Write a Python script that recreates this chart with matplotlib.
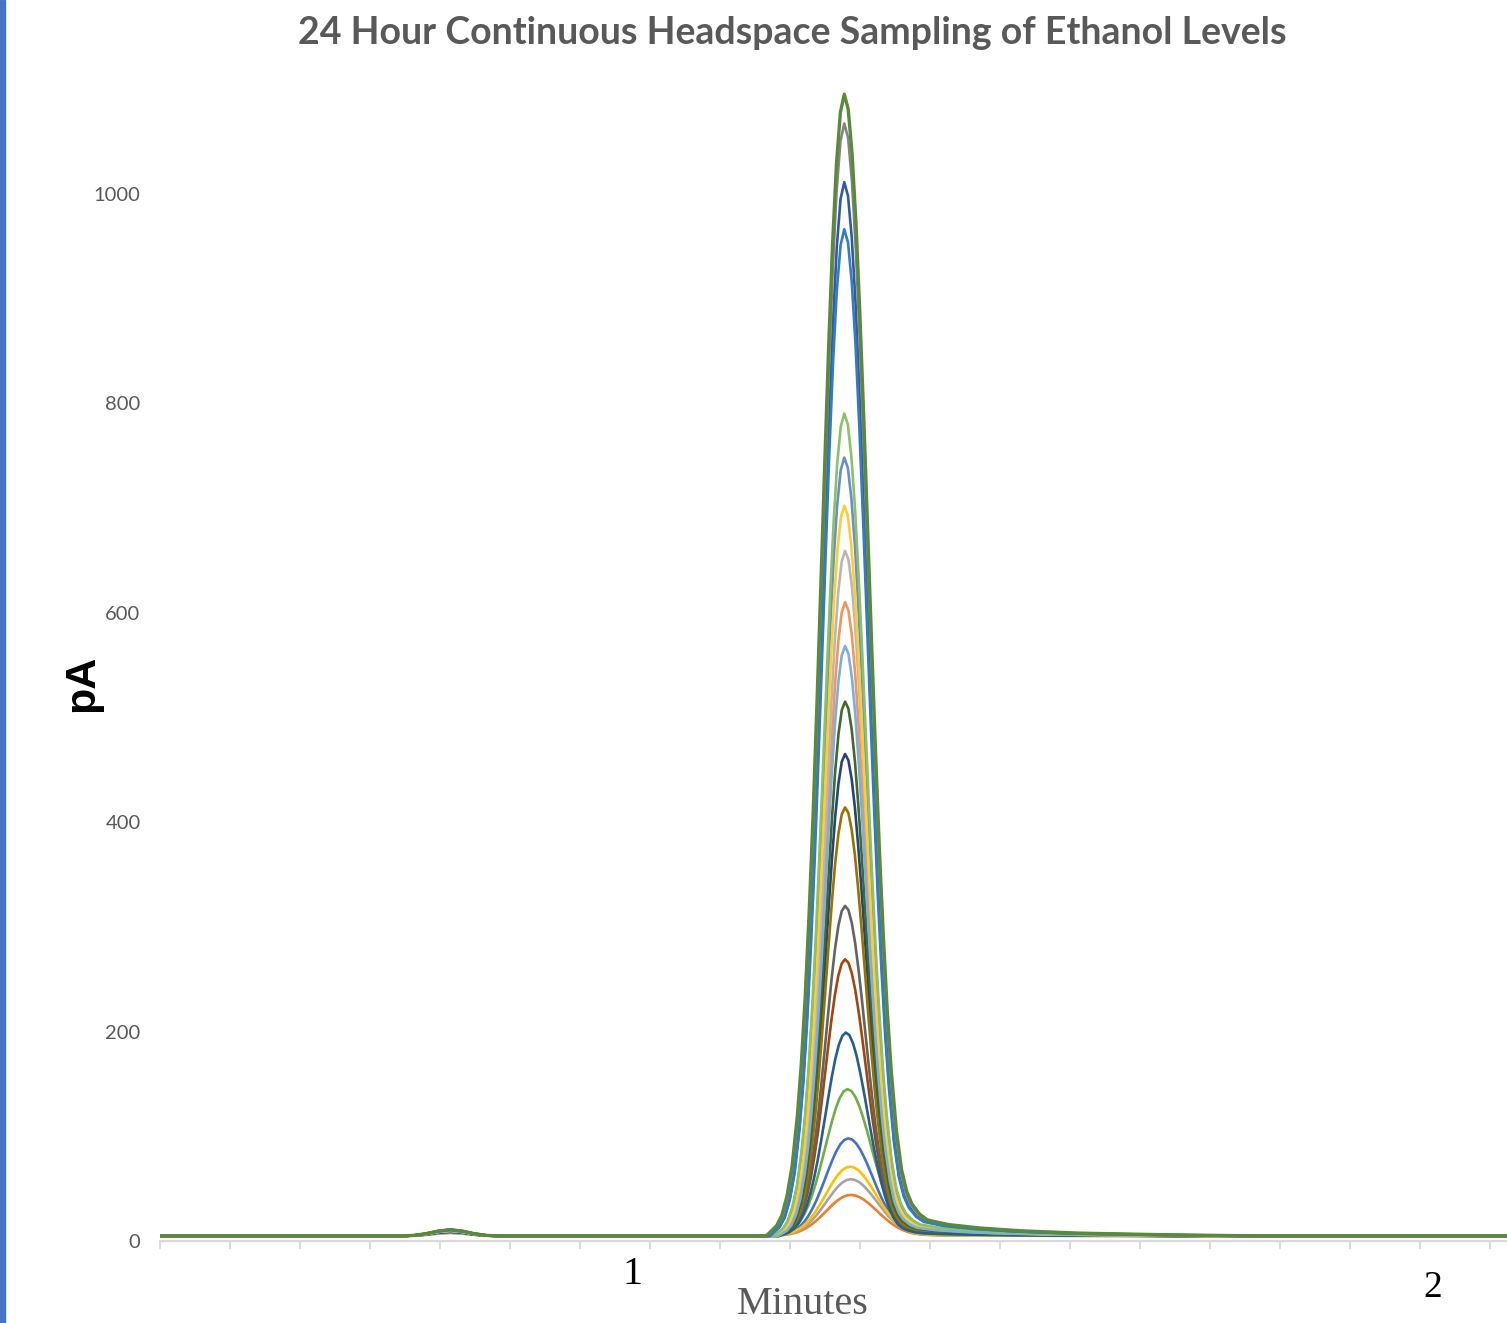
import numpy as np
import matplotlib.pyplot as plt
import matplotlib.transforms as mtransforms
from matplotlib.patches import Rectangle

# apex values (pA) of the ethanol peak, one per run, in series order
peak_heights = [98, 44, 59, 71, 145, 465, 269, 320, 414, 199, 515,
                748, 610, 659, 702, 568, 790, 1011, 1067, 966, 1095]
# retention time of each apex (min)
retention = [1.270, 1.273, 1.273, 1.272, 1.269, 1.266, 1.266, 1.266, 1.266, 1.267, 1.266,
             1.265, 1.266, 1.266, 1.265, 1.266, 1.265, 1.265, 1.265, 1.265, 1.265]
# peak width at half height (min)
peak_fwhm = [0.066, 0.072, 0.071, 0.070, 0.065, 0.055, 0.057, 0.056, 0.055, 0.059, 0.055,
             0.059, 0.056, 0.057, 0.057, 0.056, 0.059, 0.062, 0.064, 0.062, 0.065]
# small early peak
bump_heights = [4, 3, 3, 4, 5, 5, 4, 4, 5, 4, 5, 5, 5, 5, 5, 5, 6, 6, 6, 6, 6]
bump_time = 0.773
bump_fwhm = 0.05
baseline = 4.8

# peak shape: offset in half-height widths -> fraction of apex
shape_offsets = [-1.5, -1.3, -1.2, -1.1, -1.0, -0.9, -0.825, -0.75, -0.675, -0.6,
                 -0.525, -0.45, -0.375, -0.3, -0.225, -0.15, -0.075, 0.0,
                 0.075, 0.15, 0.225, 0.3, 0.375, 0.45, 0.525, 0.6, 0.675, 0.75,
                 0.825, 0.9, 1.0, 1.1, 1.2, 1.3, 1.45, 1.6, 2.0, 2.6, 3.4, 4.5, 6.0, 8.0]
shape_values = [0.0, 0.009, 0.018, 0.035, 0.062, 0.106, 0.151, 0.21, 0.283, 0.368,
                0.466, 0.57, 0.677, 0.779, 0.869, 0.939, 0.984, 1.0,
                0.987, 0.948, 0.887, 0.807, 0.716, 0.618, 0.519, 0.425, 0.338, 0.263,
                0.198, 0.146, 0.093, 0.058, 0.039, 0.028, 0.019, 0.014, 0.010, 0.007,
                0.0045, 0.0025, 0.0012, 0.0]
bump_offsets = [-1.2, -0.9, -0.6, -0.3, 0.0, 0.3, 0.6, 0.9, 1.2]
bump_values = [0.0, 0.1, 0.37, 0.78, 1.0, 0.78, 0.37, 0.1, 0.0]

colors = ['#4472C4', '#ED7D31', '#A5A5A5', '#FFC000', '#70AD47', '#264478', '#9E480E',
          '#636363', '#997300', '#255E91', '#43682B', '#698ED0', '#F1975A', '#B7B7B7',
          '#FFCD33', '#7CAFDD', '#8CC168', '#335AA1', '#848484', '#327DC2', '#5A8A39']

yticks = [0, 200, 400, 600, 800, 1000]
xmin, xmax = 0.4107, 2.0924

W, H = 1507, 1323
fig = plt.figure(figsize=(W / 100, H / 100), dpi=100)
ax = fig.add_axes([160 / W, 82 / H, 1 - 160 / W, 1173 / H])

so = np.array(shape_offsets)
sv = np.array(shape_values)
bo = np.array(bump_offsets)
bv = np.array(bump_values)
for i, h in enumerate(peak_heights):
    t = np.concatenate([[xmin], bump_time + bo * bump_fwhm,
                        retention[i] + so * peak_fwhm[i], [xmax]])
    y = np.concatenate([[baseline], baseline + bump_heights[i] * bv,
                        baseline + (h - baseline) * sv, [baseline]])
    lw = 2.4 if i == len(peak_heights) - 1 else 1.9
    ax.plot(t, y, color=colors[i], lw=lw, solid_joinstyle='round')

ax.set_xlim(xmin, xmax)
ax.set_ylim(0, 1120)
for s in ['top', 'right', 'left']:
    ax.spines[s].set_visible(False)
ax.spines['bottom'].set_color('#D9D9D9')
ax.spines['bottom'].set_linewidth(1.6)
ax.set_xticks(np.arange(xmin, xmax, 70 / 801))
ax.tick_params(axis='x', length=6, width=1.4, color='#D9D9D9', labelbottom=False)
ax.set_yticks(yticks)
ax.set_yticklabels([str(v) for v in yticks], family='Lato', fontsize=14.5, color='#595959')
ax.tick_params(axis='y', length=0, pad=14)

fig.text(792 / W, 1 - 33 / H, '24 Hour Continuous Headspace Sampling of Ethanol Levels',
         ha='center', va='center', family='Lato', fontweight='bold', fontsize=27,
         color='#595959')
fig.text(82 / W, 1 - 683 / H, 'pA', rotation=90, ha='center', va='center',
         family='Liberation Sans', fontweight='bold', fontsize=31, color='black')
fig.text(803 / W, 1 - 1305 / H, 'Minutes', ha='center', va='center',
         family='Liberation Serif', fontsize=29, color='#595959')
tr = mtransforms.blended_transform_factory(ax.transData, fig.transFigure)
ax.text(1.0, 1 - 1275 / H, '1', transform=tr, ha='center', va='center',
        family='Liberation Serif', fontsize=29, color='black')
ax.text(2.0, 1 - 1288 / H, '2', transform=tr, ha='center', va='center',
        family='Liberation Serif', fontsize=27, color='black')

fig.patches.append(Rectangle((0, 0), 5 / W, 1, transform=fig.transFigure,
                             color='#4472C4', zorder=5))

fig.savefig('out.png', dpi=100)
